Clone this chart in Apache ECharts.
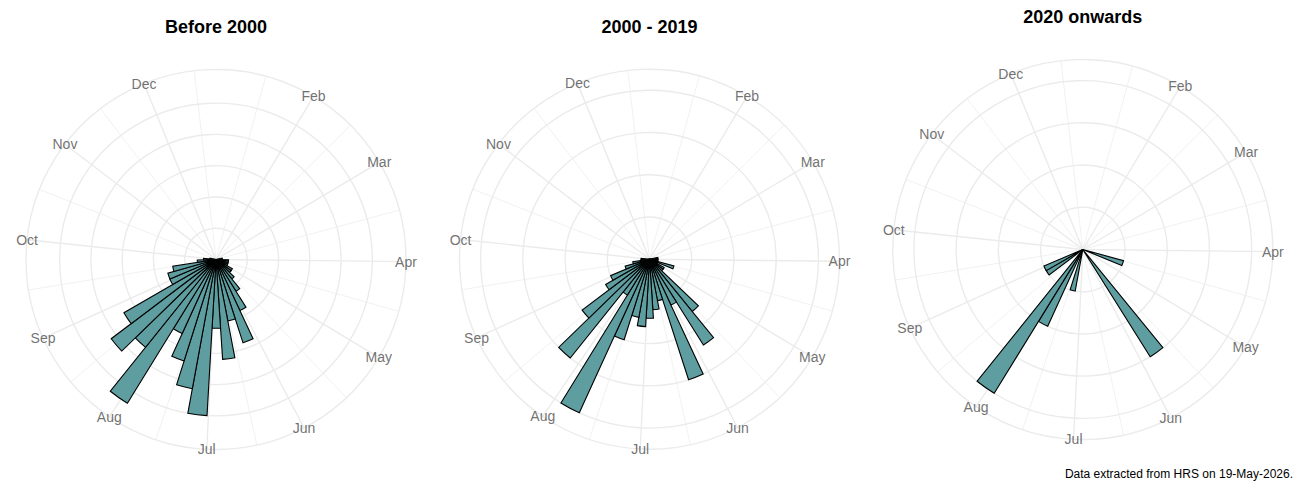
<!DOCTYPE html>
<html>
<head>
<meta charset="utf-8">
<title>Events by week of year</title>
<script src="https://cdn.jsdelivr.net/npm/echarts@6/dist/echarts.min.js"></script>
<style>
  html, body { margin: 0; padding: 0; background: #fff; }
  #chart { width: 1300px; height: 500px; }
</style>
</head>
<body>
<div id="chart"></div>
<script>
// month ticks: day of year of the 1st (Jan 1 sits outside the axis range, so no label)
const monthNames = ['Feb', 'Mar', 'Apr', 'May', 'Jun', 'Jul', 'Aug', 'Sep', 'Oct', 'Nov', 'Dec'];
const monthDays = [32, 60, 91, 121, 152, 182, 213, 244, 274, 305, 335];
// minor spokes half way between months
const minorDays = [16.5, 46, 75.5, 106, 136.5, 167, 197.5, 228.5, 259, 289.5, 320, 350.5];

// weekly bins, day of year at the bin centre
const daysBefore2000 = [81, 88, 95, 102, 109, 116, 123, 130, 137, 144, 151, 158, 165, 172, 179,
    186, 193, 200, 207, 214, 221, 228, 235, 242, 249, 256, 263, 270, 277];
const countsBefore2000 = [1, 1, 2, 2, 2, 2, 3, 3, 4, 6, 9, 14, 10, 16, 11,
    25, 21, 17, 13, 27, 18, 21, 17, 8, 8, 7, 3, 2, 1];

const days2000to2019 = [81, 88, 95, 102, 109, 116, 123, 130, 137, 144, 151, 158, 165, 172,
    179, 186, 193, 200, 207, 214, 221, 228, 235, 242, 249, 256, 263, 270];
const counts2000to2019 = [1, 1, 1, 1, 3, 1, 2, 2, 8, 12, 6, 15, 5, 6,
    7, 8, 7, 10, 20, 5, 15, 10, 6, 5, 3, 2, 1, 1];

const days2020on = [109, 144, 193, 207, 214, 235, 242];
const counts2020on = [1, 3, 1, 2, 4, 1, 1];

// radial gridline breaks per panel (free radial scale)
const breaksBefore2000 = [5, 10, 15, 20, 25];
const breaks2000to2019 = [5, 10, 15, 20];
const breaks2020on = [1, 2, 3, 4];

const titles = ['Before 2000', '2000 - 2019', '2020 onwards'];
const caption = 'Data extracted from HRS on 19-May-2026.';

const dayMin = 1.5, dayMax = 357, binDays = 7;
const FONT = '"Liberation Sans", Arial, Helvetica, sans-serif';
const GRID = '#EBEBEB';
const OUTER = 190;

const panels = [
    { days: daysBefore2000, counts: countsBefore2000, breaks: breaksBefore2000, cx: 216, cy: 259.5, top: 18 },
    { days: days2000to2019, counts: counts2000to2019, breaks: breaks2000to2019, cx: 649.5, cy: 259.2, top: 18 },
    { days: days2020on, counts: counts2020on, breaks: breaks2020on, cx: 1082.8, cy: 249.5, top: 8 }
];

let polar = [], angleAxis = [], radiusAxis = [], series = [], title = [];

panels.forEach(function (p, i) {
    // ggplot puts the data max at 0.4 and the outer circle / labels at 0.45
    let rMax = Math.max.apply(null, p.counts) * 0.45 / 0.4;
    let major = 2 * i, minor = 2 * i + 1;

    polar.push({ center: [p.cx, p.cy], radius: [0, OUTER] });
    polar.push({ center: [p.cx, p.cy], radius: [0, OUTER] });

    angleAxis.push({
        polarIndex: major, type: 'value', min: dayMin, max: dayMax,
        startAngle: 90, clockwise: true, z: 1,
        axisLine: { show: true, lineStyle: { color: GRID, width: 1.4 } },
        axisTick: { show: false, customValues: monthDays },
        axisLabel: { show: false, customValues: monthDays },
        splitLine: { show: true, lineStyle: { color: GRID, width: 1.4 } }
    });
    angleAxis.push({
        polarIndex: minor, type: 'value', min: dayMin, max: dayMax,
        startAngle: 90, clockwise: true, z: 0,
        axisLine: { show: false },
        axisTick: { show: false, customValues: minorDays },
        axisLabel: { show: false, customValues: minorDays },
        splitLine: { show: true, lineStyle: { color: GRID, width: 0.7 } }
    });

    radiusAxis.push({
        polarIndex: major, type: 'value', min: 0, max: rMax, z: 1,
        axisLine: { show: false },
        axisTick: { show: false, customValues: p.breaks },
        axisLabel: { show: false, customValues: p.breaks },
        splitLine: { show: true, lineStyle: { color: GRID, width: 1.4 } }
    });
    radiusAxis.push({
        polarIndex: minor, type: 'value', min: 0, max: 1,
        axisLine: { show: false }, axisTick: { show: false },
        axisLabel: { show: false }, splitLine: { show: false }
    });

    series.push({
        type: 'bar',
        coordinateSystem: 'polar',
        polarIndex: major,
        barWidth: binDays * 360 / (dayMax - dayMin),
        data: p.days.map(function (d, k) { return [p.counts[k], d]; }),
        itemStyle: { color: '#5F9EA0', borderColor: '#000', borderWidth: 1.1 },
        silent: true,
        z: 3
    });

    // month labels centred on the outer circle
    series.push({
        type: 'scatter',
        coordinateSystem: 'polar',
        polarIndex: major,
        symbolSize: 0,
        clip: false,
        silent: true,
        data: monthNames.map(function (m, k) { return { name: m, value: [rMax, monthDays[k]] }; }),
        label: {
            show: true, position: 'inside', formatter: '{b}',
            color: '#4D4D4D', fontSize: 14, fontFamily: FONT
        },
        z: 4
    });

    title.push({
        text: titles[i], left: p.cx, top: p.top, textAlign: 'center', padding: 0,
        textStyle: { fontSize: 18, fontWeight: 'bold', color: '#000', fontFamily: FONT }
    });
});

title.push({
    text: caption, right: 7, top: 468, padding: 0,
    textStyle: { fontSize: 12, fontWeight: 'normal', color: '#000', fontFamily: FONT }
});

let myChart = echarts.init(document.getElementById('chart'), null, { renderer: 'svg' });
myChart.setOption({
    animation: false,
    backgroundColor: '#fff',
    title: title,
    polar: polar,
    angleAxis: angleAxis,
    radiusAxis: radiusAxis,
    series: series
});
</script>
</body>
</html>
